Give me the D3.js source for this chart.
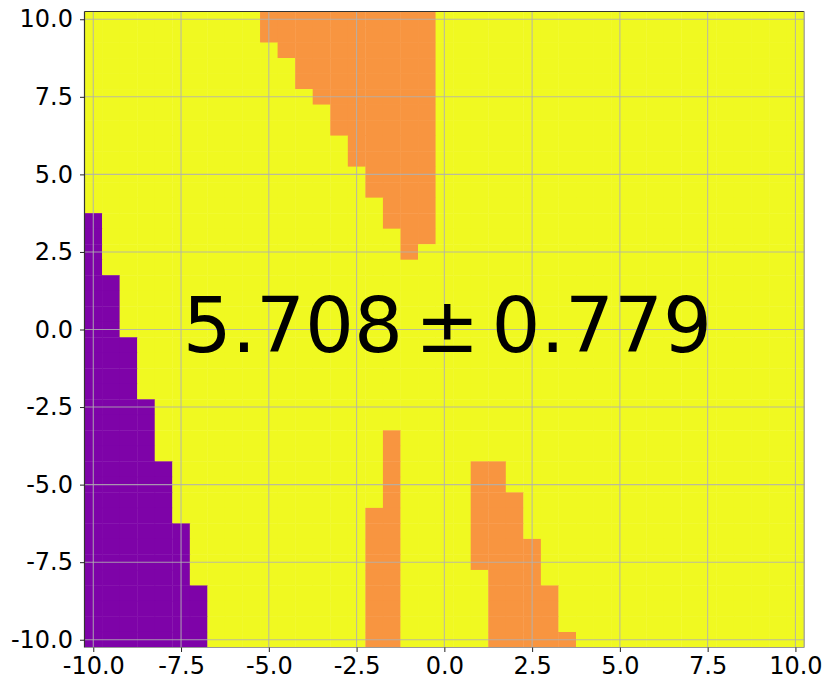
<!DOCTYPE html>
<html>
<head>
<meta charset="utf-8">
<script src="https://cdn.jsdelivr.net/npm/d3@7"></script>
<style>
  html, body { margin: 0; padding: 0; background: #fff; }
  svg { display: block; }
  text { font-family: "DejaVu Sans", sans-serif; }
</style>
</head>
<body>
<svg id="chart" width="830" height="690"></svg>
<script>
// Grid coordinates (cell centres)
const xValues = d3.range(41).map(i => -10 + 0.5 * i);
const yValues = d3.range(41).map(i => 10 - 0.5 * i);

// Cell values (1 = purple, 3 = orange, 4 = yellow), one string per row, top (y=10) to bottom (y=-10)
const gridRows = [
  "44444444443333333333444444444444444444444",
  "44444444443333333333444444444444444444444",
  "44444444444333333333444444444444444444444",
  "44444444444433333333444444444444444444444",
  "44444444444433333333444444444444444444444",
  "44444444444443333333444444444444444444444",
  "44444444444444333333444444444444444444444",
  "44444444444444333333444444444444444444444",
  "44444444444444433333444444444444444444444",
  "44444444444444433333444444444444444444444",
  "44444444444444443333444444444444444444444",
  "44444444444444443333444444444444444444444",
  "44444444444444444333444444444444444444444",
  "14444444444444444333444444444444444444444",
  "14444444444444444433444444444444444444444",
  "14444444444444444434444444444444444444444",
  "14444444444444444444444444444444444444444",
  "11444444444444444444444444444444444444444",
  "11444444444444444444444444444444444444444",
  "11444444444444444444444444444444444444444",
  "11444444444444444444444444444444444444444",
  "11144444444444444444444444444444444444444",
  "11144444444444444444444444444444444444444",
  "11144444444444444444444444444444444444444",
  "11144444444444444444444444444444444444444",
  "11114444444444444444444444444444444444444",
  "11114444444444444444444444444444444444444",
  "11114444444444444344444444444444444444444",
  "11114444444444444344444444444444444444444",
  "11111444444444444344443344444444444444444",
  "11111444444444444344443344444444444444444",
  "11111444444444444344443334444444444444444",
  "11111444444444443344443334444444444444444",
  "11111144444444443344443334444444444444444",
  "11111144444444443344443333444444444444444",
  "11111144444444443344443333444444444444444",
  "11111144444444443344444333444444444444444",
  "11111114444444443344444333344444444444444",
  "11111114444444443344444333344444444444444",
  "11111114444444443344444333344444444444444",
  "11111114444444443344444333334444444444444"
];

const tickValues = [-10, -7.5, -5, -2.5, 0, 2.5, 5, 7.5, 10];
const annotationParts = ["5.708", "\u00b1", "0.779"];
const valueMax = 4;

const svg = d3.select("#chart");
const pLeft = 84.5, pRight = 804.2, pTop = 11.5, pBottom = 647.5;

const x = d3.scaleLinear().domain([-10.25, 10.25]).range([pLeft, pRight]);
const y = d3.scaleLinear().domain([10.25, -10.25]).range([pTop, pBottom]);
const color = v => d3.interpolatePlasma(v / valueMax);

const cells = [];
gridRows.forEach((row, r) => {
  row.split("").forEach((ch, c) => {
    cells.push({ x: xValues[c], y: yValues[r], v: +ch });
  });
});

svg.append("g")
  .selectAll("rect")
  .data(cells)
  .join("rect")
  .attr("x", d => x(d.x - 0.25))
  .attr("y", d => y(d.y + 0.25))
  .attr("width", d => Math.min(x(d.x + 0.25), pRight) - x(d.x - 0.25) + (d.x < 10 ? 0.4 : 0))
  .attr("height", d => Math.min(y(d.y - 0.25), pBottom) - y(d.y + 0.25) + (d.y > -10 ? 0.4 : 0))
  .attr("fill", d => color(d.v));

// grid lines
const grid = svg.append("g");
grid.selectAll("line.gx").data(tickValues).join("line")
  .attr("class", "gx")
  .attr("x1", d => x(d)).attr("x2", d => x(d))
  .attr("y1", pTop).attr("y2", pBottom)
  .attr("stroke", "#b0b0b0").attr("stroke-opacity", 0.85).attr("stroke-width", 1.1);
grid.selectAll("line.gy").data(tickValues).join("line")
  .attr("class", "gy")
  .attr("y1", d => y(d)).attr("y2", d => y(d))
  .attr("x1", pLeft).attr("x2", pRight)
  .attr("stroke", "#b0b0b0").attr("stroke-opacity", 0.85).attr("stroke-width", 1.1);

// spines
svg.append("line").attr("x1", pLeft).attr("x2", pLeft).attr("y1", pTop).attr("y2", pBottom)
  .attr("stroke", "#333").attr("stroke-width", 1.2);
svg.append("line").attr("x1", pLeft).attr("x2", pRight).attr("y1", pTop).attr("y2", pTop)
  .attr("stroke", "#333").attr("stroke-width", 1.2);
svg.append("line").attr("x1", pRight).attr("x2", pRight).attr("y1", pTop).attr("y2", pBottom)
  .attr("stroke", "#999").attr("stroke-width", 1.2);
svg.append("line").attr("x1", pLeft).attr("x2", pRight).attr("y1", pBottom).attr("y2", pBottom)
  .attr("stroke", "#999").attr("stroke-width", 1.2);

const fmt = d => d3.format(".1f")(d).replace("\u2212", "-");

// x axis
const xAxis = d3.axisBottom(x).tickValues(tickValues).tickFormat(fmt).tickSize(4.5).tickPadding(5);
const gx = svg.append("g").attr("transform", `translate(0,${pBottom})`).call(xAxis);
gx.select(".domain").remove();
gx.selectAll("text").attr("font-size", 24).attr("fill", "#000").attr("font-family", "DejaVu Sans");
gx.selectAll("line").attr("stroke", "#222");

// y axis
const yAxis = d3.axisLeft(y).tickValues(tickValues).tickFormat(fmt).tickSize(4.5).tickPadding(7);
const gy = svg.append("g").attr("transform", `translate(${pLeft},0)`).call(yAxis);
gy.select(".domain").remove();
gy.selectAll("text").attr("font-size", 24).attr("fill", "#000").attr("font-family", "DejaVu Sans");
gy.selectAll("line").attr("stroke", "#222");

// annotation
const ann = svg.append("text")
  .attr("x", x(0) + 3)
  .attr("y", y(0) + 22)
  .attr("text-anchor", "middle")
  .attr("font-size", 77)
  .attr("fill", "#000");
ann.selectAll("tspan").data(annotationParts).join("tspan")
  .attr("dx", (d, i) => i === 0 ? 0 : 12)
  .text(d => d);
</script>
</body>
</html>
